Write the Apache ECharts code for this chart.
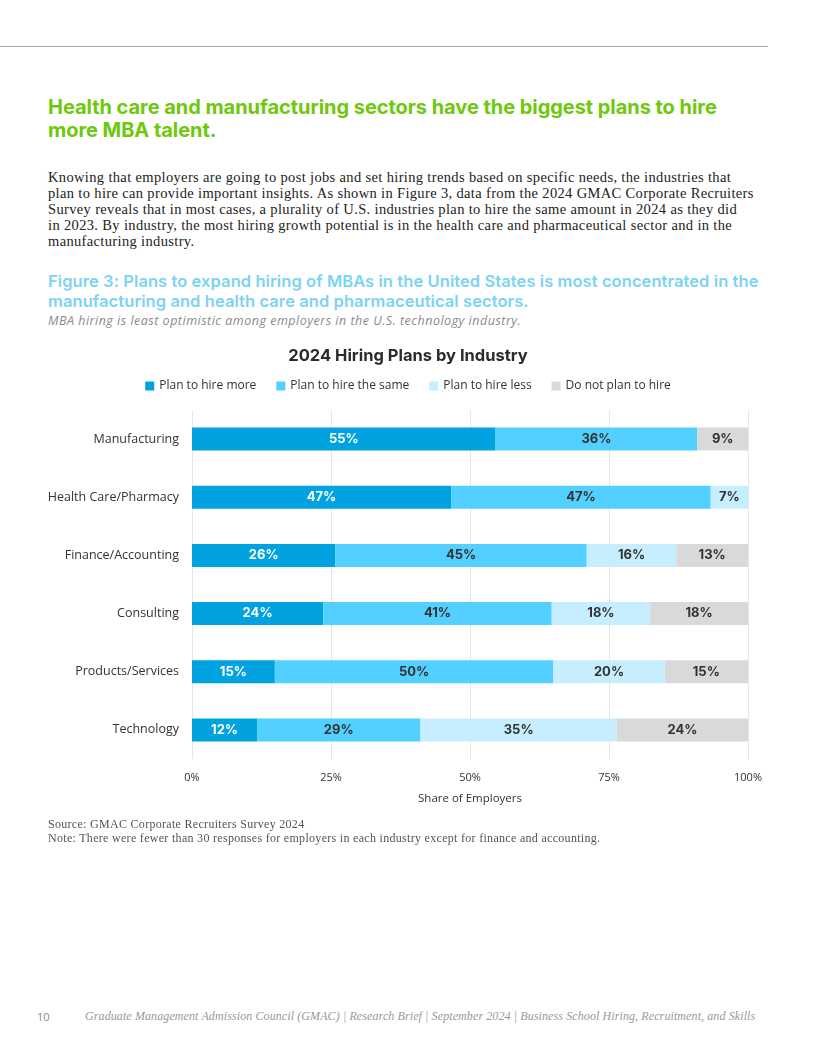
<!DOCTYPE html>
<html><head><meta charset="utf-8">
<script src="https://cdn.jsdelivr.net/npm/echarts@6/dist/echarts.min.js"></script>
<style>
body{margin:0;width:816px;height:1056px;background:#fff;position:relative;overflow:hidden;font-family:"Open Sans",sans-serif;}
.rule{position:absolute;left:0;top:46px;width:768px;height:1px;background:#a8a8a8;}
.h1{position:absolute;left:48px;top:96px;font-family:Inter,"Open Sans",sans-serif;font-weight:700;font-size:20px;line-height:23px;color:#6EC80B;letter-spacing:-0.05px;white-space:nowrap;}
.body{position:absolute;left:48px;top:169px;font-family:"Liberation Serif",serif;font-size:14.5px;line-height:16px;letter-spacing:0.35px;color:#222;white-space:nowrap;}
.fig{position:absolute;left:48px;top:271px;font-family:Inter,"Open Sans",sans-serif;font-weight:600;font-size:16.5px;line-height:20px;letter-spacing:0.08px;color:#7CD3F2;white-space:nowrap;}
.sub{position:absolute;left:48px;top:312px;font-family:"Open Sans",sans-serif;font-style:italic;font-size:12.5px;letter-spacing:0.5px;color:#8a8a8a;white-space:nowrap;}
.src{position:absolute;left:48px;top:818px;font-family:"Liberation Serif",serif;font-size:12px;line-height:13.5px;letter-spacing:0.3px;color:#555;white-space:nowrap;}
.pg{position:absolute;left:37px;top:1009px;font-family:"Open Sans",sans-serif;font-size:11px;color:#888;}
.foot{position:absolute;left:85px;top:1009px;font-family:"Liberation Serif",serif;font-style:italic;font-size:12px;letter-spacing:0.1px;color:#999;white-space:nowrap;}
#chart{position:absolute;left:0;top:330px;width:816px;height:490px;}
</style></head>
<body>
<div class="rule"></div>
<div class="h1">Health care and manufacturing sectors have the biggest plans to hire<br>more MBA talent.</div>
<div class="body">Knowing that employers are going to post jobs and set hiring trends based on specific needs, the industries that<br>plan to hire can provide important insights. As shown in Figure 3, data from the 2024 GMAC Corporate Recruiters<br>Survey reveals that in most cases, a plurality of U.S. industries plan to hire the same amount in 2024 as they did<br>in 2023. By industry, the most hiring growth potential is in the health care and pharmaceutical sector and in the<br>manufacturing industry.</div>
<div class="fig">Figure 3: Plans to expand hiring of MBAs in the United States is most concentrated in the<br>manufacturing and health care and pharmaceutical sectors.</div>
<div class="sub">MBA hiring is least optimistic among employers in the U.S. technology industry.</div>
<div id="chart"></div>
<div class="src">Source: GMAC Corporate Recruiters Survey 2024<br>Note: There were fewer than 30 responses for employers in each industry except for finance and accounting.</div>
<div class="pg">10</div>
<div class="foot">Graduate Management Admission Council (GMAC) | Research Brief | September 2024 | Business School Hiring, Recruitment, and Skills</div>
<script>
// Categories top to bottom
var industries = ["Manufacturing","Health Care/Pharmacy","Finance/Accounting","Consulting","Products/Services","Technology"];
var seriesNames = ["Plan to hire more","Plan to hire the same","Plan to hire less","Do not plan to hire"];
var hireMore   = [54.6, 46.6, 25.8, 23.6, 14.9, 11.7];
var hireSame   = [36.3, 46.7, 45.2, 41.1, 50.1, 29.4];
var hireLess   = [0,    6.7,  16.1, 17.7, 20.0, 35.3];
var noHire     = [9.1,  0,    12.9, 17.6, 15.0, 23.6];
var xTicks = [0, 25, 50, 75, 100];
var colors = ["#00A3E0","#53D0FF","#C6EEFF","#D9D9D9"];
var labelColors = ["#ffffff","#333333","#333333","#333333"];

var chart = echarts.init(document.getElementById('chart'));
var all = [hireMore, hireSame, hireLess, noHire];
var series = all.map(function(arr, i){
  return {
    name: seriesNames[i], type:'bar', stack:'t', barWidth:23,
    itemStyle:{color:colors[i]},
    label:{show:true, position:'inside', fontFamily:'Inter, Open Sans, sans-serif', fontWeight:700, fontSize:13, color:labelColors[i],
      formatter:function(p){ return p.value ? Math.round(p.value)+'%' : ''; }},
    data: arr.slice().reverse(),
    emphasis:{disabled:true}
  };
});
chart.setOption({
  animation:false,
  title:{text:'2024 Hiring Plans by Industry', left:'center', top:13, textStyle:{fontFamily:'Inter, Open Sans, sans-serif', fontWeight:700, fontSize:16.5, color:'#2b2b2b'}},
  legend:{top:45, left:'center', itemWidth:9, itemHeight:9, itemGap:20, icon:'rect',
    textStyle:{fontFamily:'Open Sans, sans-serif', fontSize:12, color:'#333'}, data:seriesNames},
  grid:{left:192, right:68, top:80, height:349},
  xAxis:{type:'value', min:0, max:100, interval:25,
    axisLabel:{formatter:function(v){return xTicks.indexOf(v)>=0 ? v+'%' : '';}, fontFamily:'Open Sans, sans-serif', fontSize:11, color:'#333', margin:13},
    axisLine:{show:false}, axisTick:{show:false},
    splitLine:{lineStyle:{color:'#E6E6E6'}},
    name:'Share of Employers', nameLocation:'middle', nameGap:34,
    nameTextStyle:{fontFamily:'Open Sans, sans-serif', fontSize:11.5, color:'#333'}},
  yAxis:{type:'category', data:industries.slice().reverse(),
    axisLine:{show:false}, axisTick:{show:false},
    axisLabel:{fontFamily:'Open Sans, sans-serif', fontSize:12.5, color:'#333', margin:13}},
  series:series
});
</script>
</body></html>
